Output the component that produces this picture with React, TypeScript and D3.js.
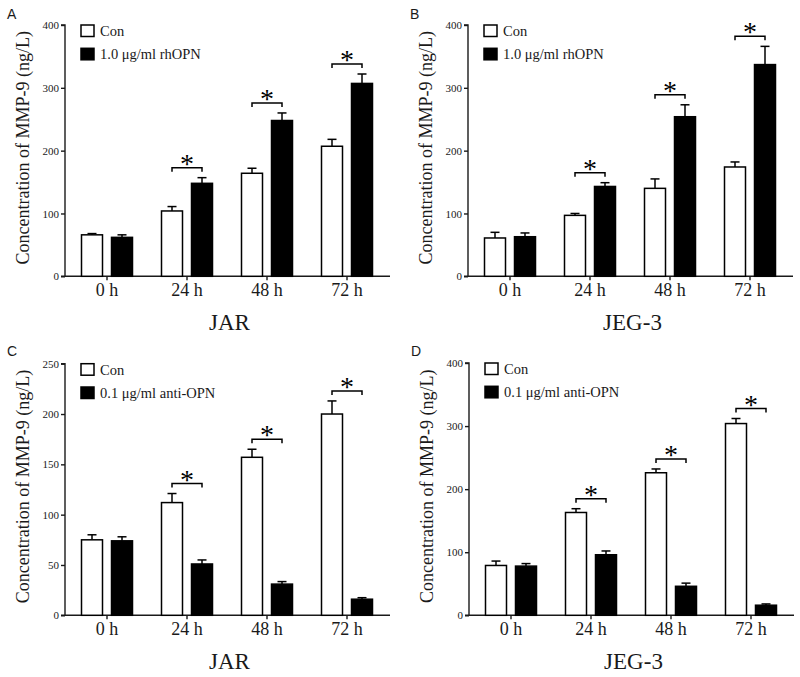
import React, { useEffect, useRef } from "react";
import * as d3 from "d3";

const categories = ["0 h", "24 h", "48 h", "72 h"];
const significant = [false, true, true, true];

const conA = [66, 104, 164, 207];
const conAErr = [2, 7, 8, 11];
const rhopnA = [62, 148, 248, 307];
const rhopnAErr = [4, 9, 12, 15];

const conB = [61, 97, 140, 174];
const conBErr = [9, 3, 15, 8];
const rhopnB = [63, 143, 254, 337];
const rhopnBErr = [6, 6, 19, 29];

const conC = [75, 112, 157, 200];
const conCErr = [5, 9, 8, 13];
const antiC = [74, 51, 31, 16];
const antiCErr = [4, 4, 2.5, 1.5];

const conD = [79, 163, 226, 304];
const conDErr = [7, 6, 6, 8];
const antiD = [78, 96, 46, 16];
const antiDErr = [4, 6, 5, 2];

const yTicksABD = [0, 100, 200, 300, 400];
const yTicksC = [0, 50, 100, 150, 200, 250];

const seriesNames = ["Con", "1.0 μg/ml rhOPN", "0.1 μg/ml anti-OPN"];

type Panel = {
  letter: string;
  title: string;
  con: number[];
  conErr: number[];
  trt: number[];
  trtErr: number[];
  trtName: string;
  ticks: number[];
  ox: number;
  oy: number;
  left: number;
  yTop: number;
  yBottom: number;
};

const panels: Panel[] = [
  { letter: "A", title: "JAR", con: conA, conErr: conAErr, trt: rhopnA, trtErr: rhopnAErr, trtName: seriesNames[1], ticks: yTicksABD, ox: 0, oy: 0, left: 65, yTop: 25, yBottom: 276.3 },
  { letter: "B", title: "JEG-3", con: conB, conErr: conBErr, trt: rhopnB, trtErr: rhopnBErr, trtName: seriesNames[1], ticks: yTicksABD, ox: 403, oy: 0, left: 65, yTop: 25, yBottom: 276.3 },
  { letter: "C", title: "JAR", con: conC, conErr: conCErr, trt: antiC, trtErr: antiCErr, trtName: seriesNames[2], ticks: yTicksC, ox: 0, oy: 337, left: 65, yTop: 26.7, yBottom: 278.3 },
  { letter: "D", title: "JEG-3", con: conD, conErr: conDErr, trt: antiD, trtErr: antiDErr, trtName: seriesNames[2], ticks: yTicksABD, ox: 404, oy: 337, left: 65, yTop: 26, yBottom: 278.3 },
];

const SERIF = "'Liberation Serif', 'Times New Roman', serif";
const SANS = "'Liberation Sans', Arial, sans-serif";
const INK = "#1a1a1a";

export default function App() {
  const ref = useRef<SVGSVGElement | null>(null);

  useEffect(() => {
    const svg = d3.select(ref.current);
    svg.selectAll("*").remove();

    panels.forEach((p) => {
      const g = svg.append("g").attr("transform", `translate(${p.ox},${p.oy})`);
      const right = p.left + 325;
      const maxV = p.ticks[p.ticks.length - 1];
      const y = d3.scaleLinear().domain([0, maxV]).range([p.yBottom, p.yTop]);
      const x = d3.scaleBand<string>().domain(categories).range([p.left + 2, p.left + 322]).padding(0);
      const sub = d3.scaleBand<string>().domain(["con", "trt"]).range([-25.5, 25.5]).paddingInner(0.3);
      const center = (c: string) => (x(c) as number) + x.bandwidth() / 2;

      // panel letter
      g.append("text").attr("x", 7).attr("y", 19).attr("font-family", SANS).attr("font-size", 14).attr("fill", INK).text(p.letter);

      // y axis
      const yAxis = d3.axisLeft(y).tickValues(p.ticks).tickSize(4).tickPadding(2).tickFormat(d3.format("d"));
      const ya = g.append("g").attr("transform", `translate(${p.left},0)`).call(yAxis);
      ya.select(".domain").attr("d", `M-4,${y(maxV)}H0V${y(0)}H-4`).attr("stroke", INK).attr("stroke-width", 1.4);
      ya.selectAll(".tick line").attr("stroke", INK).attr("stroke-width", 1.4);
      ya.selectAll(".tick text").attr("font-family", SERIF).attr("font-size", 11).attr("fill", INK);

      // x axis
      const xAxis = d3.axisBottom(x).tickSize(4).tickSizeOuter(0).tickPadding(3);
      const xa = g.append("g").attr("transform", `translate(0,${p.yBottom})`).call(xAxis);
      xa.select(".domain").attr("d", `M${p.left},0H${right}`).attr("stroke", INK).attr("stroke-width", 1.4);
      xa.selectAll(".tick line").attr("stroke", INK).attr("stroke-width", 1.4);
      xa.selectAll(".tick text").attr("font-family", SERIF).attr("font-size", 18).attr("fill", INK);

      // y label
      g.append("text")
        .attr("transform", `translate(29,${(p.yTop + p.yBottom) / 2 - 3}) rotate(-90)`)
        .attr("text-anchor", "middle")
        .attr("font-family", SERIF)
        .attr("font-size", 18)
        .attr("fill", INK)
        .text("Concentration of MMP-9 (ng/L)");

      // title
      g.append("text")
        .attr("x", (p.left + right) / 2 + 2)
        .attr("y", p.yBottom + 54)
        .attr("text-anchor", "middle")
        .attr("font-family", SERIF)
        .attr("font-size", 23)
        .attr("fill", INK)
        .text(p.title);

      const rows = categories.map((c, i) => ({
        c,
        i,
        items: [
          { k: "con", v: p.con[i], e: p.conErr[i], fill: "#fff" },
          { k: "trt", v: p.trt[i], e: p.trtErr[i], fill: "#000" },
        ],
      }));

      rows.forEach((r) => {
        const cx = center(r.c);
        r.items.forEach((it) => {
          const bx = cx + (sub(it.k) as number);
          const bw = sub.bandwidth();
          const mid = bx + bw / 2;
          // error bar
          g.append("line").attr("x1", mid).attr("x2", mid).attr("y1", y(it.v)).attr("y2", y(it.v + it.e)).attr("stroke", "#000").attr("stroke-width", 1.5);
          g.append("line").attr("x1", mid - 4.5).attr("x2", mid + 4.5).attr("y1", y(it.v + it.e)).attr("y2", y(it.v + it.e)).attr("stroke", "#000").attr("stroke-width", 1.5);
          g.append("rect")
            .attr("x", bx)
            .attr("y", y(it.v))
            .attr("width", bw)
            .attr("height", y(0) - y(it.v))
            .attr("fill", it.fill)
            .attr("stroke", "#000")
            .attr("stroke-width", 1.5);
        });
        if (significant[r.i]) {
          const top = d3.max(r.items, (it) => it.v + it.e) as number;
          const by = y(top) - 10;
          const xa0 = cx + (sub("con") as number) + sub.bandwidth() / 2;
          const xa1 = cx + (sub("trt") as number) + sub.bandwidth() / 2;
          g.append("path")
            .attr("d", `M${xa0},${by + 4}V${by}H${xa1}V${by + 4}`)
            .attr("fill", "none")
            .attr("stroke", "#000")
            .attr("stroke-width", 1.5);
          g.append("text")
            .attr("x", (xa0 + xa1) / 2)
            .attr("y", by + 5)
            .attr("text-anchor", "middle")
            .attr("font-family", SERIF)
            .attr("font-size", 28)
            .attr("fill", "#000")
            .text("*");
        }
      });

      // legend
      const lx = p.left + 16;
      const legend = [
        { name: "Con", fill: "#fff", y0: p.yTop },
        { name: p.trtName, fill: "#000", y0: p.yTop + 23.3 },
      ];
      legend.forEach((l) => {
        g.append("rect").attr("x", lx).attr("y", l.y0).attr("width", 13).attr("height", 11.5).attr("fill", l.fill).attr("stroke", "#000").attr("stroke-width", 1.5);
        g.append("text").attr("x", lx + 19).attr("y", l.y0 + 11).attr("font-family", SERIF).attr("font-size", 14.5).attr("fill", INK).text(l.name);
      });
    });
  }, []);

  return (
    <svg
      ref={ref}
      width={800}
      height={677}
      style={{ position: "absolute", left: 0, top: 0, background: "#fff" }}
    />
  );
}
